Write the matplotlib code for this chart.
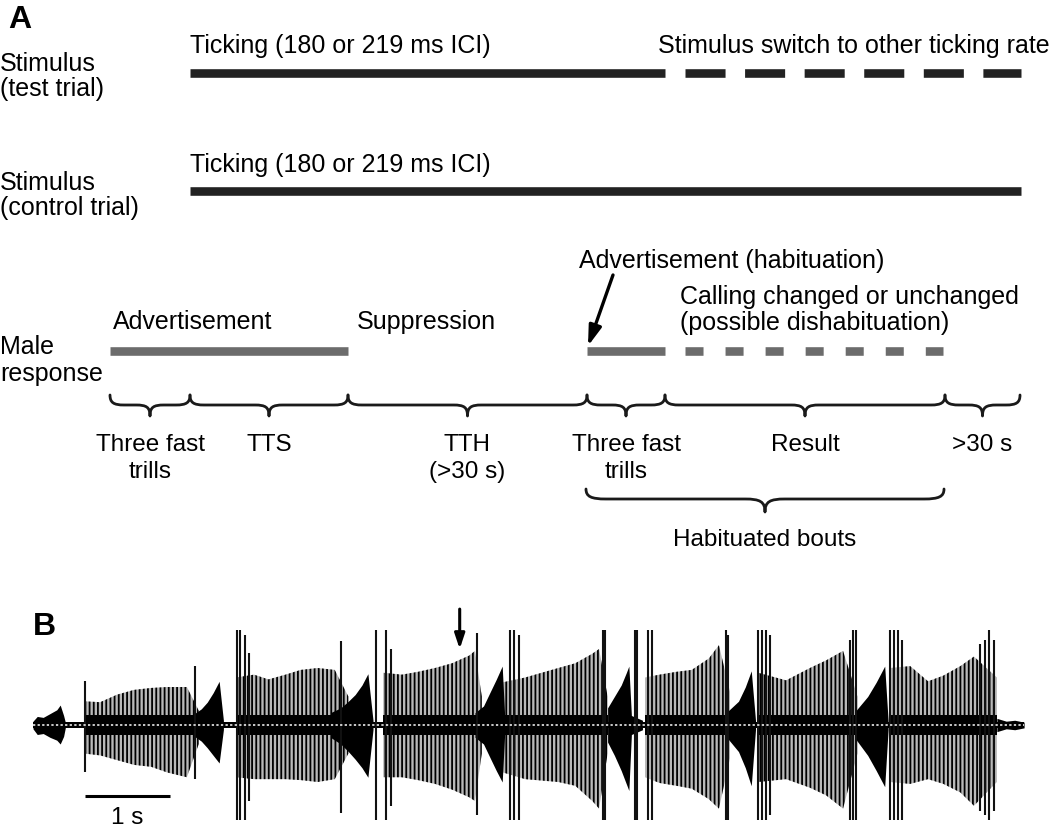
import numpy as np
import matplotlib
matplotlib.use("Agg")
import matplotlib.pyplot as plt
from matplotlib.path import Path
from matplotlib.patches import PathPatch

plt.rcParams['font.family'] = ['Liberation Sans', 'DejaVu Sans']
plt.rcParams['hatch.linewidth'] = 1.3
plt.rcParams['hatch.color'] = 'black'

# ---------------- Panel A data (timeline positions) ----------------
test_solid = [190, 665]
test_dashed = [685, 1021]
control_solid = [190, 1021]
male_adv = [110, 348]
male_hab_solid = [587, 665]
male_hab_dashed = [685, 943]

phase_edges = [110, 190, 348, 587, 665, 945, 1020]
phase_labels = ["Three fast\ntrills", "TTS", "TTH\n(>30 s)", "Three fast\ntrills", "Result", ">30 s"]
habituated_span = [586, 944]

# ---------------- Panel B data (time in s, relative amplitude) ----------------
# pulse-train envelopes per bout: times, upper and lower envelope
bout_t = [
    [0.60, 0.79, 0.99, 1.19, 1.39, 1.58, 1.81, 1.95],
    [2.39, 2.60, 2.77, 2.97, 3.15, 3.35, 3.55, 3.71],
    [4.12, 4.34, 4.53, 4.73, 4.93, 5.13, 5.20, 5.28],
    [5.53, 5.79, 6.18, 6.38, 6.58, 6.66, 6.76],
    [7.20, 7.37, 7.57, 7.75, 7.95, 8.07, 8.20],
    [8.53, 8.86, 9.14, 9.33, 9.53, 9.70],
    [10.08, 10.32, 10.53, 10.71, 10.91, 11.07, 11.34],
]
bout_top = [
    [0.25, 0.24, 0.32, 0.37, 0.39, 0.40, 0.40, 0.15],
    [0.50, 0.53, 0.48, 0.53, 0.58, 0.60, 0.58, 0.30],
    [0.55, 0.53, 0.56, 0.60, 0.65, 0.73, 0.78, 0.30],
    [0.45, 0.50, 0.60, 0.65, 0.75, 0.80, 0.30],
    [0.50, 0.53, 0.56, 0.58, 0.70, 0.84, 0.35],
    [0.55, 0.47, 0.60, 0.68, 0.78, 0.30],
    [0.60, 0.62, 0.46, 0.52, 0.62, 0.72, 0.50],
]
bout_bot = [
    [-0.30, -0.32, -0.37, -0.42, -0.44, -0.50, -0.55, -0.20],
    [-0.55, -0.57, -0.57, -0.57, -0.58, -0.60, -0.57, -0.30],
    [-0.55, -0.55, -0.58, -0.62, -0.68, -0.76, -0.80, -0.30],
    [-0.50, -0.57, -0.60, -0.64, -0.80, -0.88, -0.30],
    [-0.55, -0.61, -0.64, -0.67, -0.78, -0.88, -0.35],
    [-0.60, -0.57, -0.66, -0.74, -0.88, -0.30],
    [-0.60, -0.62, -0.57, -0.62, -0.71, -0.85, -0.60],
]
# solid black parts (intro call and fast trills at bout ends)
trill_t = [
    [0.00, 0.05, 0.12, 0.20, 0.28, 0.32, 0.36, 0.38],
    [1.90, 1.98, 2.05, 2.12, 2.19, 2.24],
    [3.50, 3.62, 3.71, 3.79, 3.87, 3.94, 4.00],
    [5.20, 5.30, 5.38, 5.45, 5.52, 5.55],
    [6.76, 6.84, 6.92, 6.98, 7.01, 7.04, 7.17],
    [8.18, 8.30, 8.38, 8.45, 8.50],
    [9.68, 9.82, 9.92, 10.02, 10.06],
]
trill_top = [
    [0.04, 0.09, 0.08, 0.12, 0.16, 0.21, 0.10, 0.03],
    [0.12, 0.17, 0.24, 0.34, 0.46, 0.05],
    [0.13, 0.18, 0.25, 0.32, 0.42, 0.54, 0.05],
    [0.13, 0.20, 0.35, 0.48, 0.62, 0.08],
    [0.18, 0.30, 0.42, 0.55, 0.62, 0.10, 0.05],
    [0.15, 0.25, 0.40, 0.57, 0.05],
    [0.15, 0.30, 0.45, 0.62, 0.05],
]
trill_bot = [
    [-0.04, -0.10, -0.09, -0.13, -0.16, -0.20, -0.12, -0.03],
    [-0.12, -0.17, -0.24, -0.32, -0.40, -0.05],
    [-0.13, -0.20, -0.28, -0.36, -0.45, -0.55, -0.05],
    [-0.13, -0.20, -0.35, -0.48, -0.60, -0.08],
    [-0.18, -0.32, -0.48, -0.62, -0.69, -0.10, -0.05],
    [-0.15, -0.28, -0.45, -0.64, -0.05],
    [-0.15, -0.32, -0.48, -0.65, -0.05],
]
# large stimulus clicks
click_t = [0.61, 1.91, 2.40, 2.44, 2.49, 2.54, 3.62, 4.04, 4.15, 4.21, 5.22, 5.61, 5.66,
           5.72, 6.71, 6.73, 7.08, 7.11, 7.24, 7.28, 8.15, 8.18, 8.53, 8.58, 8.62, 8.67,
           9.61, 9.65, 9.68, 10.08, 10.13, 10.18, 10.22, 11.14, 11.20, 11.25, 11.31]
click_top = [0.46, 0.62, 1.0, 1.0, 0.95, 0.76, 0.88, 1.0, 1.0, 0.80, 0.97, 1.0, 1.0,
             0.95, 1.0, 1.0, 1.0, 1.0, 1.0, 1.0, 1.0, 0.95, 1.0, 1.0, 1.0, 0.95,
             0.90, 1.0, 1.0, 1.0, 1.0, 1.0, 0.90, 0.85, 0.90, 1.0, 0.90]
click_bot = [-0.49, -0.57, -1.0, -1.0, -1.0, -0.80, -0.93, -1.0, -1.0, -0.85, -0.95, -1.0, -1.0,
             -1.0, -1.0, -1.0, -1.0, -1.0, -1.0, -1.0, -1.0, -1.0, -1.0, -1.0, -1.0, -0.95,
             -1.0, -1.0, -1.0, -1.0, -1.0, -1.0, -1.0, -0.90, -0.95, -1.0, -0.90]
tail_t = [11.34, 11.45, 11.55, 11.66]
tail_amp = [0.07, 0.04, 0.05, 0.03]
record_span = [0.0, 11.66]
core_amp = 0.11
scale_bar = [0.61, 1.61]

# ---------------- figure ----------------
W, H = 1050, 829
fig = plt.figure(figsize=(W / 100, H / 100), dpi=100)
axA = fig.add_axes([0, 0, 1, 1])
axA.set_xlim(0, W)
axA.set_ylim(H, 0)
axA.axis('off')

FS = 18
BLACK = '#222222'
GRAY = '#6c6c6c'
BAR_LW = 6.2

def txt(x, y, s, **kw):
    kw.setdefault('fontsize', FS)
    axA.text(x, y, s, va='baseline', **kw)

def lines_txt(x, y, s, dy=26, **kw):
    for i, line in enumerate(s.split('\n')):
        txt(x, y + i * dy, line, **kw)

txt(8, 28, 'A', fontsize=23, fontweight='bold')

# stimulus test trial
lines_txt(0, 71, 'Stimulus\n(test trial)', dy=25)
txt(190, 53, 'Ticking (180 or 219 ms ICI)')
txt(658, 53, 'Stimulus switch to other ticking rate')
axA.plot(test_solid, [74, 74], color=BLACK, lw=BAR_LW, solid_capstyle='butt')
axA.plot(test_dashed, [74, 74], color=BLACK, lw=BAR_LW, dash_capstyle='butt',
         linestyle=(0, (40 / 8.6, 19.5 / 8.6)))

# stimulus control trial
lines_txt(0, 190, 'Stimulus\n(control trial)', dy=25)
txt(190, 172, 'Ticking (180 or 219 ms ICI)')
axA.plot(control_solid, [192, 192], color=BLACK, lw=BAR_LW, solid_capstyle='butt')

# male response
lines_txt(0, 354, 'Male\nresponse', dy=27)
txt(113, 329, 'Advertisement')
txt(357, 329, 'Suppression')
txt(579, 268, 'Advertisement (habituation)')
lines_txt(680, 304, 'Calling changed or unchanged\n(possible dishabituation)')
axA.plot(male_adv, [352, 352], color=GRAY, lw=BAR_LW, solid_capstyle='butt')
axA.plot(male_hab_solid, [352, 352], color=GRAY, lw=BAR_LW, solid_capstyle='butt')
axA.plot(male_hab_dashed, [352, 352], color=GRAY, lw=BAR_LW, dash_capstyle='butt',
         linestyle=(0, (18 / 8.6, 22 / 8.6)))
axA.annotate('', xy=(588, 347), xytext=(613, 276),
             arrowprops=dict(arrowstyle='-|>,head_length=1.2,head_width=0.38',
                             color='black', lw=2.4, shrinkA=0, shrinkB=0))

def brace(x0, x1, y0, h=10, tip=11, r=14):
    xm = (x0 + x1) / 2
    r = min(r, (x1 - x0) / 4)
    yf = y0 + h
    verts = [(x0, y0), (x0, y0 + h * 0.75), (x0 + r * 0.25, yf), (x0 + r, yf),
             (xm - r, yf), (xm - r * 0.25, yf), (xm, yf + tip * 0.2), (xm, yf + tip),
             (xm, yf + tip * 0.2), (xm + r * 0.25, yf), (xm + r, yf),
             (x1 - r, yf), (x1 - r * 0.25, yf), (x1, y0 + h * 0.75), (x1, y0)]
    codes = [Path.MOVETO, Path.CURVE4, Path.CURVE4, Path.CURVE4,
             Path.LINETO, Path.CURVE4, Path.CURVE4, Path.CURVE4,
             Path.CURVE4, Path.CURVE4, Path.CURVE4,
             Path.LINETO, Path.CURVE4, Path.CURVE4, Path.CURVE4]
    axA.add_patch(PathPatch(Path(verts, codes), fill=False, lw=2.0,
                            edgecolor='#1a1a1a', capstyle='round', joinstyle='round'))

for a, b, lab in zip(phase_edges[:-1], phase_edges[1:], phase_labels):
    brace(a, b, 396, h=10, tip=11)
    lines_txt((a + b) / 2, 451, lab, dy=27, ha='center', fontsize=17.5)

brace(habituated_span[0], habituated_span[1], 490, h=10, tip=13, r=20)
txt(sum(habituated_span) / 2, 546, 'Habituated bouts', ha='center', fontsize=17.5)

# ---------------- Panel B ----------------
txt(33, 635, 'B', fontsize=23, fontweight='bold')
x0B, yc, amp_px, sec_px = 33, 726, 95, 85
axB = fig.add_axes([x0B / W, 0, 1 - x0B / W, (H - 600) / H])
axB.set_xlim(0, (W - x0B) / sec_px)
axB.set_ylim(-(H - yc) / amp_px, (yc - 600) / amp_px)
axB.axis('off')

# baseline band
axB.fill_between(record_span, [-0.035, -0.035], [0.035, 0.035], color='black', lw=0)
# pulse trains
for t, top, bot in zip(bout_t, bout_top, bout_bot):
    axB.fill_between(t, bot, top, facecolor='#b9b9b9', edgecolor='black',
                     linewidth=0, hatch='||||')
    axB.fill_between([t[0], t[-1]], [-core_amp] * 2, [core_amp] * 2, color='black', lw=0)
# fast trills
for t, top, bot in zip(trill_t, trill_top, trill_bot):
    axB.fill_between(t, bot, top, color='black', lw=0)
# clicks
axB.vlines(click_t, click_bot, click_top, color='#111111', lw=1.5)
# tail
axB.fill_between(tail_t, -np.array(tail_amp), tail_amp, color='black', lw=0)
# dotted centre line
axB.plot(record_span, [0, 0], color='white', lw=1.1, linestyle=(0, (1.5, 1.5)))

# scale bar
axB.plot(scale_bar, [-0.75, -0.75], color='black', lw=2.2, solid_capstyle='butt')
axB.text(np.mean(scale_bar), -1.03, '1 s', ha='center', va='baseline', fontsize=17.5)
# arrow
axB.annotate('', xy=(5.02, 0.80), xytext=(5.02, 1.22),
             arrowprops=dict(arrowstyle='-|>,head_length=0.9,head_width=0.3',
                             color='black', lw=2.2, shrinkA=0, shrinkB=0))

fig.savefig('out.png', dpi=100)
